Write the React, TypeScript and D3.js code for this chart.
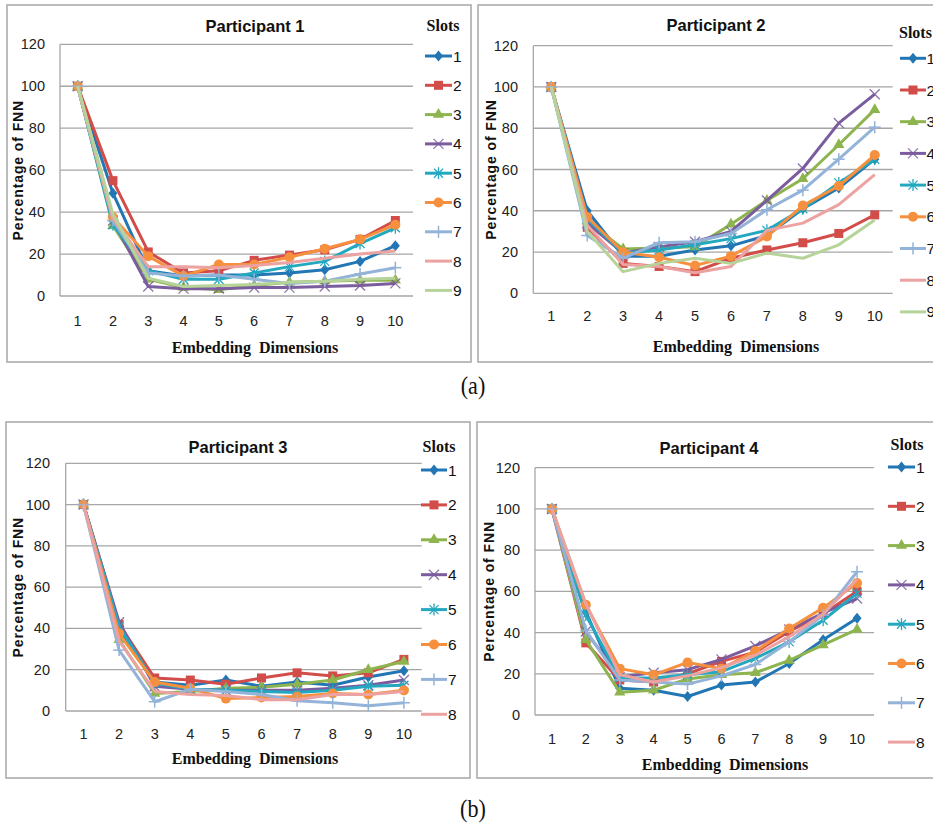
import React from "react";
import * as d3 from "d3";

const dims = [1, 2, 3, 4, 5, 6, 7, 8, 9, 10];
const yTicks = [0, 20, 40, 60, 80, 100, 120];
const slotColors = ["#2276b4", "#d24d49", "#8db44e", "#7b5c9e", "#23a8c0", "#f7903e", "#93b3d8", "#eca2a0", "#b6d39a"];
const slotMarkers = ["diamond", "square", "triangle", "x", "star", "circle", "plus", "none", "none"];

const participant1 = [
  [100, 49, 12, 9.5, 10, 10, 11, 12.5, 16.5, 24],
  [100, 55, 21, 11, 12, 17, 19.5, 22, 27, 36],
  [100, 33.5, 8, 4, 3, 5, 6.5, 7, 7.5, 7.5],
  [100, 36, 4.5, 3.5, 3.5, 4, 4, 4.5, 5, 6],
  [100, 34, 12, 8, 8, 11, 14, 16.5, 25, 32.5],
  [100, 37.5, 19, 9.5, 15, 15, 18.5, 22.5, 27, 34],
  [100, 36, 11, 9.5, 10, 8, 6, 7, 10.5, 13.5],
  [100, 37, 14, 14, 13.5, 14.5, 16, 18, 20, 21.5],
  [100, 39, 8.5, 4.5, 5, 5.5, 6.5, 7, 8, 8.5],
];

const participant2 = [
  [100, 40, 18, 18, 21, 23, 28, 41, 51, 65],
  [100, 32, 14.5, 13, 10.5, 17, 21, 24.5, 29, 38],
  [100, 35, 21.5, 22, 22.5, 33.5, 45, 55.5, 72, 89],
  [100, 34, 19.5, 22.5, 25, 30, 45, 60.5, 82.5, 96.5],
  [100, 36, 19.5, 21, 23.5, 26.5, 30.5, 41, 53.5, 65],
  [100, 37, 20, 17.5, 13.5, 18, 27.5, 42.5, 52, 67],
  [100, 28, 17, 24.5, 25, 29, 40.5, 50, 65, 80.5],
  [100, 33, 14, 13, 10, 13, 30.5, 34, 43, 57.5],
  [100, 30, 10.5, 14.5, 17, 14.5, 19.5, 17, 23.5, 35.5],
];

const participant3 = [
  [100, 40, 14, 12.5, 15, 12, 14, 12.5, 16.5, 19.5],
  [100, 42, 16, 15, 13, 16, 18.5, 17, 18.5, 25],
  [100, 34.5, 8.5, 9.5, 11, 11.5, 13, 15, 20, 24],
  [100, 43, 12, 10.5, 10, 10, 10, 11, 12.5, 15],
  [100, 41, 13.5, 10.5, 10, 9.5, 9, 10, 12, 12.5],
  [100, 37.5, 14, 11, 6, 6.5, 7, 8.5, 8, 10],
  [100, 29.5, 4.5, 10.5, 9.5, 8, 5, 4, 2.5, 4],
  [100, 34, 9.5, 8, 7.5, 5.5, 5.5, 8, 8, 9.5],
];

const participant4 = [
  [100, 50, 13, 12, 9, 14.5, 16, 25, 36.5, 47],
  [100, 35, 17, 16, 20, 26, 30.5, 40.5, 49, 60],
  [100, 36.5, 11, 12, 17.5, 19.5, 20.5, 26.5, 34, 41.5],
  [100, 40.5, 18.5, 20.5, 22, 27, 33.5, 41.5, 49.5, 56.5],
  [100, 48.5, 18, 18, 19.5, 21, 27.5, 35.5, 46, 59],
  [100, 53.5, 22.5, 19.5, 25.5, 22.5, 31, 42, 52, 64],
  [100, 41, 17, 16, 15, 19, 24.5, 35.5, 48.5, 69.5],
  [100, 54, 19.5, 16, 19, 23, 29, 38, 49, 66],
];

const panelTitles = ["Participant 1", "Participant 2", "Participant 3", "Participant 4"];

type Layout = {
  border: [number, number, number, number];
  plot: { left: number; right: number; top: number; bottom: number };
  title: [number, number];
  yTitleX: number;
  yTickX: number;
  xTickY: number;
  xTitle: [number, number];
  slots: [number, number, string];
  legLine: [number, number];
  legText: number;
  legY0: number;
  legDy: number;
};

const layouts: Layout[] = [
  {
    border: [7, 5, 464, 357],
    plot: { left: 60, right: 413, top: 44.3, bottom: 296 },
    title: [255, 26], yTitleX: 18, yTickX: 45, xTickY: 321, xTitle: [255, 347],
    slots: [443, 25, "middle"], legLine: [425, 452], legText: 453, legY0: 56, legDy: 29.3,
  },
  {
    border: [478, 5, 470, 357],
    plot: { left: 533.3, right: 892.7, top: 45.7, bottom: 293.3 },
    title: [716, 25], yTitleX: 491, yTickX: 518, xTickY: 316, xTitle: [736, 346],
    slots: [899, 32, "start"], legLine: [900, 926], legText: 926.5, legY0: 58.3, legDy: 31.7,
  },
  {
    border: [6, 422, 464, 356],
    plot: { left: 65.7, right: 421.7, top: 463.3, bottom: 711 },
    title: [238, 447], yTitleX: 18, yTickX: 50, xTickY: 734, xTitle: [255, 758],
    slots: [439, 446, "middle"], legLine: [421, 447], legText: 448, legY0: 470, legDy: 34.9,
  },
  {
    border: [477, 422, 470, 356],
    plot: { left: 535, right: 874, top: 467.7, bottom: 715 },
    title: [709, 448], yTitleX: 489, yTickX: 520, xTickY: 739, xTitle: [725, 764],
    slots: [907, 444, "middle"], legLine: [888, 915], legText: 916, legY0: 467, legDy: 39.3,
  },
];

function Marker({ type, x, y, color }: { type: string; x: number; y: number; color: string }) {
  switch (type) {
    case "diamond":
      return <path d={`M${x},${y - 5.5}L${x + 4.5},${y}L${x},${y + 5.5}L${x - 4.5},${y}Z`} fill={color} />;
    case "square":
      return <rect x={x - 4.5} y={y - 4.5} width={9} height={9} fill={color} />;
    case "triangle":
      return <path transform={`translate(${x},${y})`} d={d3.symbol(d3.symbolTriangle, 55)() || ""} fill={color} />;
    case "x":
      return (
        <g stroke={color} strokeWidth={1.3} opacity={0.85}>
          <line x1={x - 5} y1={y - 5} x2={x + 5} y2={y + 5} />
          <line x1={x - 5} y1={y + 5} x2={x + 5} y2={y - 5} />
        </g>
      );
    case "star":
      return (
        <g stroke={color} strokeWidth={1.3}>
          <line x1={x - 4.5} y1={y - 4.5} x2={x + 4.5} y2={y + 4.5} />
          <line x1={x - 4.5} y1={y + 4.5} x2={x + 4.5} y2={y - 4.5} />
          <line x1={x} y1={y - 6} x2={x} y2={y + 6} />
        </g>
      );
    case "circle":
      return <circle cx={x} cy={y} r={5} fill={color} />;
    case "plus":
      return (
        <g stroke={color} strokeWidth={1.5}>
          <line x1={x - 6} y1={y} x2={x + 6} y2={y} />
          <line x1={x} y1={y - 6} x2={x} y2={y + 6} />
        </g>
      );
    default:
      return null;
  }
}

function Panel({ idx, series }: { idx: number; series: number[][] }) {
  const L = layouts[idx];
  const { left, right, top, bottom } = L.plot;
  const x = d3.scalePoint<number>().domain(dims).range([left, right]).padding(0.5);
  const y = d3.scaleLinear().domain([0, 120]).range([bottom, top]);
  const line = d3.line<number>().x((_, i) => x(dims[i]) as number).y((v) => y(v));
  const sans = "'Liberation Sans', Arial, sans-serif";
  const serif = "'Liberation Serif', 'Times New Roman', serif";
  return (
    <g>
      <rect x={L.border[0]} y={L.border[1]} width={L.border[2]} height={L.border[3]} fill="#fff" stroke="#a6a6a6" strokeWidth={1.5} />
      {yTicks.map((t) => (
        <g key={t}>
          <line x1={left} x2={right} y1={y(t)} y2={y(t)} stroke="#a6a6a6" strokeWidth={1.3} />
          <text x={L.yTickX} y={y(t)} textAnchor="end" dominantBaseline="central" fontSize={14.5} fontFamily={sans} fill="#222">{t}</text>
        </g>
      ))}
      <line x1={left} x2={left} y1={y(120)} y2={y(0)} stroke="#a6a6a6" strokeWidth={1.3} />
      {dims.map((d) => (
        <text key={d} x={x(d)} y={L.xTickY} textAnchor="middle" dominantBaseline="central" fontSize={14.5} fontFamily={sans} fill="#222">{d}</text>
      ))}
      {series.map((s, si) => (
        <g key={si}>
          <path d={line(s) || ""} fill="none" stroke={slotColors[si]} strokeWidth={3} strokeLinejoin="round" />
          {s.map((v, i) => (
            <Marker key={i} type={slotMarkers[si]} x={x(dims[i]) as number} y={y(v)} color={slotColors[si]} />
          ))}
        </g>
      ))}
      <text x={L.title[0]} y={L.title[1]} textAnchor="middle" dominantBaseline="central" fontSize={16.5} fontWeight="bold" fontFamily={sans} fill="#111">{panelTitles[idx]}</text>
      <text transform={`translate(${L.yTitleX},${(top + bottom) / 2}) rotate(-90)`} textAnchor="middle" dominantBaseline="central" fontSize={14} fontWeight="bold" letterSpacing={0.9} fontFamily={sans} fill="#111">Percentage of FNN</text>
      <text x={L.xTitle[0]} y={L.xTitle[1]} textAnchor="middle" dominantBaseline="central" fontSize={16} fontWeight="bold" fontFamily={serif} fill="#111" style={{ whiteSpace: "pre" }}>{"Embedding  Dimensions"}</text>
      <text x={L.slots[0]} y={L.slots[1]} textAnchor={L.slots[2]} dominantBaseline="central" fontSize={16} fontWeight="bold" fontFamily={serif} fill="#111">Slots</text>
      {series.map((_, si) => {
        const ly = L.legY0 + si * L.legDy;
        const mx = (L.legLine[0] + L.legLine[1]) / 2;
        return (
          <g key={si}>
            <line x1={L.legLine[0]} x2={L.legLine[1]} y1={ly} y2={ly} stroke={slotColors[si]} strokeWidth={3} />
            <Marker type={slotMarkers[si]} x={mx} y={ly} color={slotColors[si]} />
            <text x={L.legText} y={ly} dominantBaseline="central" fontSize={15.5} fontFamily={sans} fill="#111">{si + 1}</text>
          </g>
        );
      })}
    </g>
  );
}

export default function App() {
  const all = [participant1, participant2, participant3, participant4];
  return (
    <svg width={933} height={825} style={{ position: "absolute", left: 0, top: 0, background: "#fff" }}>
      <rect x={0} y={0} width={933} height={825} fill="#fff" />
      {all.map((s, i) => (
        <Panel key={i} idx={i} series={s} />
      ))}
      <text transform="translate(473,385) scale(0.85,1)" textAnchor="middle" dominantBaseline="central" fontSize={26} fontFamily="'Liberation Serif', serif" fill="#111">(a)</text>
      <text transform="translate(473,808) scale(0.85,1)" textAnchor="middle" dominantBaseline="central" fontSize={26} fontFamily="'Liberation Serif', serif" fill="#111">(b)</text>
    </svg>
  );
}
